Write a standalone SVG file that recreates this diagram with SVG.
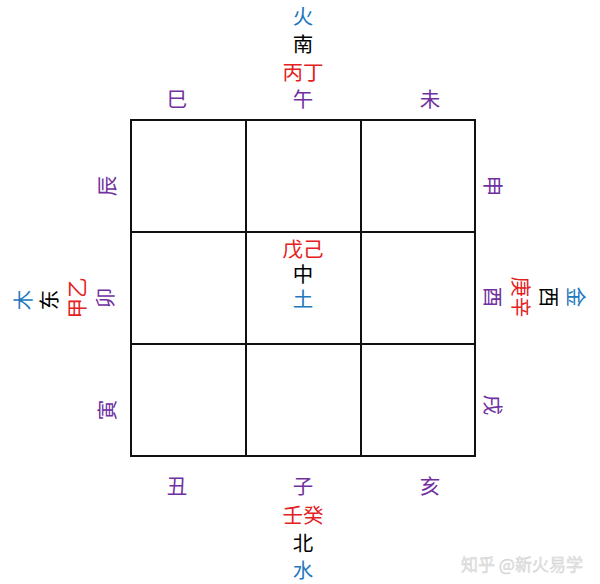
<svg xmlns="http://www.w3.org/2000/svg" width="600" height="584" viewBox="0 0 600 584">
<style>
text{font-family:"Microsoft YaHei","Noto Sans CJK SC",sans-serif;font-size:20.5px;text-anchor:middle;dominant-baseline:central}
.b{fill:#2278bf}.k{fill:#000}.r{fill:#e42020}.p{fill:#7030a0}
.g{fill:none;stroke:#111;stroke-width:2}
.w{fill:#e6e6e6;font-size:17px;stroke:#cfcfcf;stroke-width:0.4}
</style>
<rect width="600" height="584" fill="#fff"/>
<g id="grid">
<rect class="g" x="131" y="120" width="344" height="336"/>
<path class="g" d="M246 120V456M361 120V456M131 232H475M131 344H475"/>
</g>
<g id="top">
<text class="b" x="303" y="15">火</text>
<text class="k" x="303" y="43">南</text>
<text class="r" x="303" y="71">丙丁</text>
<text class="p" x="303" y="98">午</text>
<text class="p" x="177" y="98">巳</text>
<text class="p" x="430" y="98">未</text>
</g>
<g id="bottom">
<text class="p" x="177" y="485">丑</text>
<text class="p" x="303" y="485">子</text>
<text class="p" x="430" y="485">亥</text>
<text class="r" x="303" y="514">壬癸</text>
<text class="k" x="303" y="542">北</text>
<text class="b" x="303" y="569">水</text>
</g>
<g id="center">
<text class="r" x="303" y="248">戊己</text>
<text class="k" x="303" y="273">中</text>
<text class="b" x="303" y="298">土</text>
</g>
<g id="left">
<text class="p" transform="translate(106,186) rotate(-90)">辰</text>
<text class="p" transform="translate(104,298) rotate(-90)">卯</text>
<text class="p" transform="translate(106,410) rotate(-90)">寅</text>
<text class="r" transform="translate(76,298) rotate(-90)">甲乙</text>
<text class="k" transform="translate(48,300) rotate(-90)">东</text>
<text class="b" transform="translate(22,300) rotate(-90)">木</text>
</g>
<g id="right">
<text class="p" transform="translate(494,186) rotate(90)">申</text>
<text class="p" transform="translate(494,297) rotate(90)">酉</text>
<text class="p" transform="translate(494,405) rotate(90)">戌</text>
<text class="r" transform="translate(522,297) rotate(90)">庚辛</text>
<text class="k" transform="translate(550,297) rotate(90)">西</text>
<text class="b" transform="translate(577,297) rotate(90)">金</text>
</g>
<text class="w" x="522" y="563">知乎 @新火易学</text>
</svg>
